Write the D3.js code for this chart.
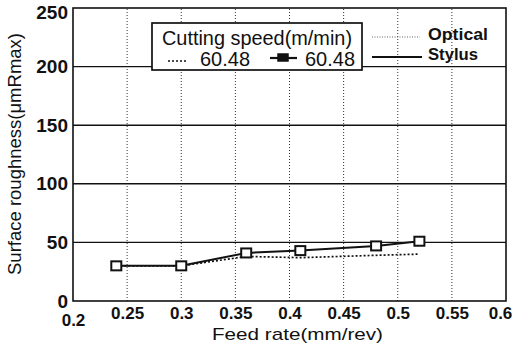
<!DOCTYPE html>
<html>
<head>
<meta charset="utf-8">
<script src="https://cdn.jsdelivr.net/npm/d3@7"></script>
<style>
  body { margin: 0; background: #fff; }
  svg text { font-family: "Liberation Sans", Arial, sans-serif; fill: #111; }
</style>
</head>
<body>
<div id="chart"></div>
<script>
// feed rate (mm/rev)
var feed = [0.24, 0.30, 0.36, 0.41, 0.48, 0.52];
// surface roughness, um Rmax
var optical = [30, 30, 38, 37, 39, 40];
var stylus = [30, 30, 41, 43, 47, 51];
var xTicks = [0.2, 0.25, 0.3, 0.35, 0.4, 0.45, 0.5, 0.55, 0.6];
var yTicks = [0, 50, 100, 150, 200, 250];

var width = 516, height = 345;
var margin = { left: 73, right: 10, top: 8, bottom: 44 };
var font = '"Liberation Sans", Arial, sans-serif';

var svg = d3.select('#chart').append('svg')
    .attr('width', width)
    .attr('height', height);

var x = d3.scaleLinear().domain([0.2, 0.6]).range([margin.left, width - margin.right]);
var y = d3.scaleLinear().domain([0, 250]).range([height - margin.bottom, margin.top]);

// grid: dotted verticals, solid horizontals
svg.append('g').selectAll('line')
    .data(xTicks.slice(1, -1))
    .enter().append('line')
    .attr('x1', function(d){ return x(d); })
    .attr('x2', function(d){ return x(d); })
    .attr('y1', y(0)).attr('y2', y(250))
    .attr('stroke', '#333').attr('stroke-width', 1)
    .attr('stroke-dasharray', '1,2');

svg.append('g').selectAll('line')
    .data(yTicks.slice(1, -1))
    .enter().append('line')
    .attr('x1', x(0.2)).attr('x2', x(0.6))
    .attr('y1', function(d){ return y(d); })
    .attr('y2', function(d){ return y(d); })
    .attr('stroke', '#111').attr('stroke-width', 1.4);

svg.append('rect')
    .attr('x', x(0.2)).attr('y', y(250))
    .attr('width', x(0.6) - x(0.2)).attr('height', y(0) - y(250))
    .attr('fill', 'none').attr('stroke', '#111').attr('stroke-width', 1.6);

// axes
var xAxis = d3.axisBottom(x).tickValues(xTicks).tickSize(0).tickPadding(6)
    .tickFormat(function(d){ return String(d); });
var gx = svg.append('g')
    .attr('transform', 'translate(0,' + y(0) + ')')
    .call(xAxis);
gx.select('.domain').remove();
gx.selectAll('text')
    .style('font-size', '17px')
    .attr('dy', function(d){ return d === 0.2 ? '1.12em' : '0.72em'; })
    .attr('dx', function(d){ return d === 0.6 ? -6 : 0; });

var yAxis = d3.axisLeft(y).tickValues(yTicks).tickSize(0).tickPadding(5);
var gy = svg.append('g')
    .attr('transform', 'translate(' + x(0.2) + ',0)')
    .call(yAxis);
gy.select('.domain').remove();
gy.selectAll('text')
    .style('font-size', '19px')
    .attr('y', function(d){ return d === 250 ? 4 : 0; });
svg.selectAll('.tick text')
    .attr('fill', '#111')
    .style('font-family', font)
    .style('font-weight', 'bold');

svg.append('text')
    .attr('x', 212).attr('y', 340)
    .attr('font-size', 17)
    .attr('textLength', 171).attr('lengthAdjust', 'spacingAndGlyphs')
    .text('Feed rate(mm/rev)');

svg.append('text')
    .attr('transform', 'translate(21,275) rotate(-90)')
    .attr('font-size', 18)
    .attr('textLength', 242).attr('lengthAdjust', 'spacingAndGlyphs')
    .text('Surface roughness(μmRmax)');

// series
var line = d3.line()
    .x(function(d){ return x(d[0]); })
    .y(function(d){ return y(d[1]); });

svg.append('path')
    .datum(d3.zip(feed, optical))
    .attr('d', line)
    .attr('fill', 'none').attr('stroke', '#111')
    .attr('stroke-width', 1.7).attr('stroke-dasharray', '2,2');

svg.append('path')
    .datum(d3.zip(feed, stylus))
    .attr('d', line)
    .attr('fill', 'none').attr('stroke', '#111')
    .attr('stroke-width', 2);

svg.append('g').selectAll('rect')
    .data(d3.zip(feed, stylus))
    .enter().append('rect')
    .attr('x', function(d){ return x(d[0]) - 5; })
    .attr('y', function(d){ return y(d[1]) - 4.5; })
    .attr('width', 10).attr('height', 9)
    .attr('fill', '#fff').attr('stroke', '#111').attr('stroke-width', 2);

// legend box
var lg = svg.append('g');
lg.append('rect')
    .attr('x', 152).attr('y', 23).attr('width', 210).attr('height', 47)
    .attr('fill', '#fff').attr('stroke', '#111').attr('stroke-width', 1.7);
lg.append('text').attr('x', 162).attr('y', 45).attr('font-size', 20)
    .attr('textLength', 190).attr('lengthAdjust', 'spacingAndGlyphs')
    .text('Cutting speed(m/min)');
lg.append('line').attr('x1', 168).attr('x2', 187).attr('y1', 61).attr('y2', 61)
    .attr('stroke', '#111').attr('stroke-width', 1.7).attr('stroke-dasharray', '2,2');
lg.append('text').attr('x', 200).attr('y', 66).attr('font-size', 20)
    .attr('textLength', 50).attr('lengthAdjust', 'spacingAndGlyphs')
    .text('60.48');
lg.append('line').attr('x1', 270).attr('x2', 297).attr('y1', 58).attr('y2', 58)
    .attr('stroke', '#111').attr('stroke-width', 2.2);
lg.append('rect').attr('x', 278).attr('y', 54).attr('width', 10).attr('height', 7)
    .attr('fill', '#111').attr('stroke', '#111').attr('stroke-width', 1.5);
lg.append('text').attr('x', 305).attr('y', 66).attr('font-size', 20)
    .attr('textLength', 50).attr('lengthAdjust', 'spacingAndGlyphs')
    .text('60.48');

// method legend
lg.append('line').attr('x1', 372).attr('x2', 420).attr('y1', 37).attr('y2', 37)
    .attr('stroke', '#666').attr('stroke-width', 1).attr('stroke-dasharray', '1,1.5');
lg.append('text').attr('x', 428).attr('y', 40).attr('font-size', 17)
    .attr('font-weight', 'bold')
    .attr('textLength', 60).attr('lengthAdjust', 'spacingAndGlyphs')
    .text('Optical');
lg.append('line').attr('x1', 372).attr('x2', 422).attr('y1', 57).attr('y2', 57)
    .attr('stroke', '#111').attr('stroke-width', 2.2);
lg.append('text').attr('x', 428).attr('y', 60).attr('font-size', 17)
    .attr('font-weight', 'bold')
    .attr('textLength', 50).attr('lengthAdjust', 'spacingAndGlyphs')
    .text('Stylus');
</script>
</body>
</html>
